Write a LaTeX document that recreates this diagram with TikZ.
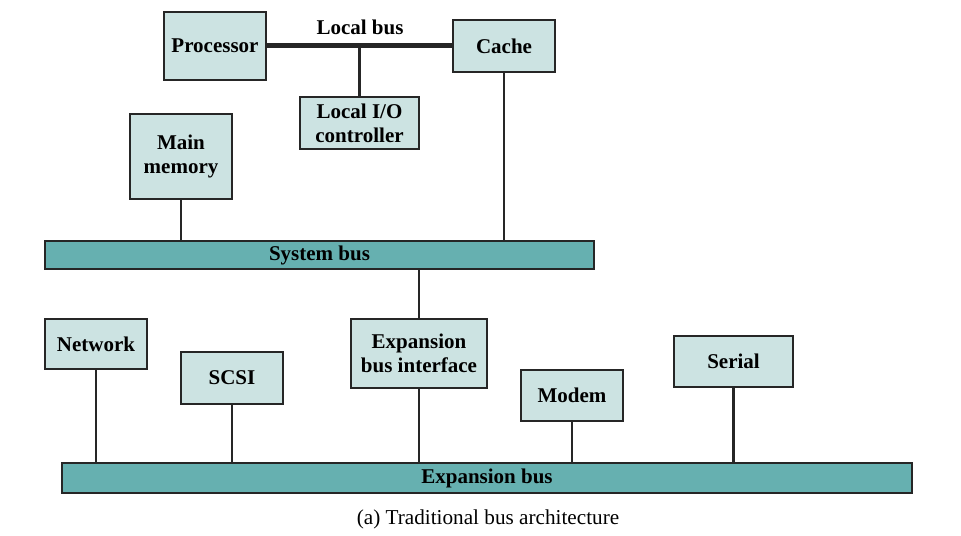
\documentclass[tikz,border=0pt]{standalone}
\usepackage{fontspec}
\setmainfont{Liberation Serif}
\usetikzlibrary{calc}
\definecolor{boxfill}{RGB}{204,227,226}
\definecolor{busfill}{RGB}{102,176,176}
\tikzset{
	unit/.style={draw=black!85, line width=0.6pt, fill=boxfill, inner sep=0pt, align=center,
		font=\fontsize{10.5}{12}\selectfont\bfseries},
	bus/.style={draw=black!85, line width=0.6pt, fill=busfill, inner sep=0pt,
		font=\fontsize{10.5}{12}\selectfont\bfseries},
	wire/.style={line width=1.1pt, draw=black!85}
}

\begin{document}
\begin{tikzpicture}[x=0.5pt, y=-0.5pt]
		%%%%% START %%%%%
		\useasboundingbox (0, 0) rectangle (961, 535);
		
		\node[unit, minimum width=51pt, minimum height=34pt] (proc) at (215, 46) {Processor};
		\node[unit, minimum width=51pt, minimum height=26pt] (cache) at (504, 46) {Cache};
		\node[unit, minimum width=59.5pt, minimum height=26pt] (lio) at (359.5, 123) {Local I/O\\controller};
		\node[unit, minimum width=51pt, minimum height=42.5pt] (mem) at (181, 156.5) {Main\\memory};
		
		\node[bus, minimum width=274.5pt, minimum height=14pt] (sysbus) at (319.5, 255) {System bus};
		
		\node[unit, minimum width=51pt, minimum height=25pt] (net) at (96, 344) {Network};
		\node[unit, minimum width=51pt, minimum height=26pt] (scsi) at (232, 378) {SCSI};
		\node[unit, minimum width=68pt, minimum height=34.5pt] (ebi) at (419, 353.5) {Expansion\\bus interface};
		\node[unit, minimum width=51pt, minimum height=25.5pt] (modem) at (572, 395.5) {Modem};
		\node[unit, minimum width=59.5pt, minimum height=25.5pt] (serial) at (733.5, 361.5) {Serial};
		
		\node[bus, minimum width=425pt, minimum height=15pt] (expbus) at (487, 478) {Expansion bus};
		
		% local bus
		\draw[line width=2.5pt, black!85] (proc) -- (cache);
		\node[font=\fontsize{10.5}{12}\selectfont\bfseries] (lbus) at (360, 27) {Local bus};
		\draw[wire] (lio.north) -- (lio.north |- proc.east);
		
		% system bus
		\draw[wire] (mem.south) -- (mem.south |- sysbus.north);
		\draw[wire] (cache.south) -- (cache.south |- sysbus.north);
		\draw[wire] (ebi.north) -- (ebi.north |- sysbus.south);
		
		% expansion bus
		\draw[wire] (net.south) -- (net.south |- expbus.north);
		\draw[wire] (scsi.south) -- (scsi.south |- expbus.north);
		\draw[wire] (ebi.south) -- (ebi.south |- expbus.north);
		\draw[wire] (modem.south) -- (modem.south |- expbus.north);
		\draw[wire] (serial.south) -- (serial.south |- expbus.north);
		
		\node[font=\fontsize{10.6}{12}\selectfont] (caption) at (488, 519) {(a) Traditional bus architecture};
		
		%%%%% END %%%%%
	\end{tikzpicture}
\end{document}
